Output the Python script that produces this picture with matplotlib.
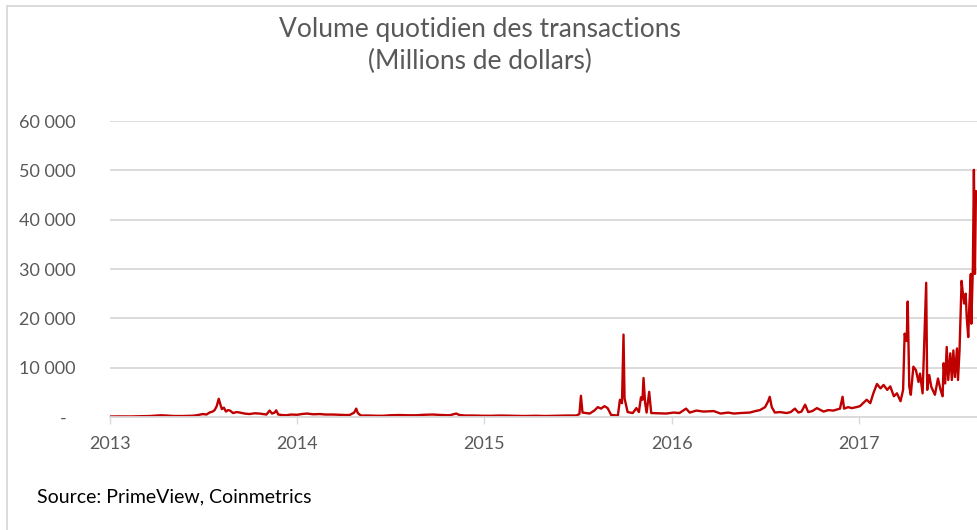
import matplotlib
matplotlib.use("Agg")
import matplotlib.pyplot as plt
from matplotlib.lines import Line2D
from matplotlib.ticker import FixedLocator, FuncFormatter
from matplotlib.transforms import ScaledTranslation
import pandas as pd

plt.rcParams['font.family'] = ['Lato', 'DejaVu Sans']

title_line1 = "Volume quotidien des transactions"
title_line2 = "(Millions de dollars)"
source_text = "Source: PrimeView, Coinmetrics"

dates = [
    "2013-01-01", "2013-01-20", "2013-02-10", "2013-03-01", "2013-03-20", "2013-04-10",
    "2013-04-20", "2013-05-05", "2013-05-23", "2013-06-10", "2013-06-19", "2013-07-01",
    "2013-07-08", "2013-07-14", "2013-07-20", "2013-07-24", "2013-07-28", "2013-08-01",
    "2013-08-04", "2013-08-07", "2013-08-11", "2013-08-15", "2013-08-19", "2013-08-23",
    "2013-08-29", "2013-09-05", "2013-09-11", "2013-09-20", "2013-09-30", "2013-10-10",
    "2013-10-19", "2013-10-26", "2013-11-02", "2013-11-08", "2013-11-13", "2013-11-18",
    "2013-11-21", "2013-11-25", "2013-12-02", "2013-12-11", "2013-12-20",
    "2014-01-01", "2014-01-10", "2014-01-20", "2014-02-01", "2014-02-14", "2014-02-25",
    "2014-03-12", "2014-03-25", "2014-04-05", "2014-04-13", "2014-04-22", "2014-04-26",
    "2014-04-29", "2014-05-05", "2014-05-20", "2014-06-05", "2014-06-17", "2014-07-01",
    "2014-07-19", "2014-08-05", "2014-08-21", "2014-09-05", "2014-09-22", "2014-10-10",
    "2014-10-25", "2014-11-07", "2014-11-13", "2014-11-25", "2014-12-10", "2014-12-29",
    "2015-01-15", "2015-02-01", "2015-02-25", "2015-03-20", "2015-04-10", "2015-04-30",
    "2015-05-20", "2015-06-10", "2015-06-29", "2015-07-05", "2015-07-08", "2015-07-11",
    "2015-07-18", "2015-07-25", "2015-08-03", "2015-08-10", "2015-08-16", "2015-08-23",
    "2015-08-29", "2015-09-05", "2015-09-12", "2015-09-18", "2015-09-22", "2015-09-26",
    "2015-09-29", "2015-10-01", "2015-10-07", "2015-10-12", "2015-10-17", "2015-10-24",
    "2015-10-29", "2015-11-02", "2015-11-05", "2015-11-07", "2015-11-10", "2015-11-13",
    "2015-11-18", "2015-11-22", "2015-12-05", "2015-12-21",
    "2016-01-05", "2016-01-16", "2016-01-29", "2016-02-05", "2016-02-18", "2016-03-03",
    "2016-03-23", "2016-04-05", "2016-04-20", "2016-05-01", "2016-05-14", "2016-06-01",
    "2016-06-12", "2016-06-21", "2016-07-01", "2016-07-07", "2016-07-10", "2016-07-14",
    "2016-07-20", "2016-07-30", "2016-08-12", "2016-08-20", "2016-08-28", "2016-09-04",
    "2016-09-10", "2016-09-17", "2016-09-23", "2016-10-01", "2016-10-10", "2016-10-23",
    "2016-11-01", "2016-11-11", "2016-11-24", "2016-11-29", "2016-12-02", "2016-12-10",
    "2016-12-17", "2016-12-26",
    "2017-01-02", "2017-01-08", "2017-01-15", "2017-01-22", "2017-01-28", "2017-02-04",
    "2017-02-11", "2017-02-17", "2017-02-24", "2017-03-02", "2017-03-09", "2017-03-15",
    "2017-03-22", "2017-03-27", "2017-03-30", "2017-04-03", "2017-04-05", "2017-04-08",
    "2017-04-11", "2017-04-16", "2017-04-21", "2017-04-26", "2017-04-29", "2017-05-04",
    "2017-05-11", "2017-05-13", "2017-05-17", "2017-05-21", "2017-05-28", "2017-06-03",
    "2017-06-08", "2017-06-12", "2017-06-14", "2017-06-17", "2017-06-20", "2017-06-23",
    "2017-06-27", "2017-06-30", "2017-07-03", "2017-07-06", "2017-07-10", "2017-07-12",
    "2017-07-15", "2017-07-19", "2017-07-21", "2017-07-24", "2017-07-27", "2017-07-29",
    "2017-08-01", "2017-08-03", "2017-08-06", "2017-08-07", "2017-08-10", "2017-08-12",
    "2017-08-14", "2017-08-16", "2017-08-19",
]

volumes = [
    100, 120, 110, 150, 200, 350,
    300, 200, 200, 250, 350, 600,
    500, 900, 1100, 1400, 2200, 3700,
    2600, 1600, 1900, 1100, 1400, 1300,
    800, 1000, 900, 700, 600, 750,
    700, 600, 500, 1300, 700, 900,
    1350, 500, 400, 350, 500,
    450, 600, 700, 550, 600, 500,
    500, 450, 400, 400, 900, 1700,
    800, 300, 300, 250, 250, 350,
    400, 350, 350, 450, 500, 400,
    350, 700, 400, 300, 300, 250,
    250, 300, 250, 200, 250, 200,
    250, 300, 300, 600, 4300, 900,
    800, 700, 1300, 2000, 1700, 2200,
    1800, 400, 350, 300, 3500, 2800,
    16700, 3800, 1000, 900, 800, 1800,
    1000, 4000, 3500, 7900, 3000, 900,
    5100, 800, 750, 700,
    900, 800, 1700, 900, 1300, 1100,
    1200, 700, 900, 700, 800, 900,
    1200, 1400, 2000, 3200, 4100, 2000,
    900, 1000, 800, 1000, 1700, 900,
    1100, 2500, 1000, 1200, 1800, 1100,
    1400, 1300, 1700, 4100, 1700, 2000,
    1800, 2000,
    2200, 2800, 3500, 2800, 4800, 6700,
    5800, 6500, 5500, 6200, 4200, 4800,
    3200, 5500, 16900, 15400, 23400, 6200,
    4500, 10200, 9500, 7100, 8800, 4800,
    27200, 5500, 8500, 6100, 4500, 7800,
    5500, 4200, 10900, 6800, 14200, 7500,
    12900, 7500, 13500, 8100, 13900, 7500,
    13500, 27600, 25500, 23000, 25000, 20300,
    16200, 22300, 29000, 18900, 30300, 50100,
    29000, 45800, 45000,
]

year_ticks = ["2013-01-01", "2014-01-01", "2015-01-01", "2016-01-01", "2017-01-01"]
year_labels = ["2013", "2014", "2015", "2016", "2017"]
y_ticks = [0, 10000, 20000, 30000, 40000, 50000, 60000]

TEXT = "#595959"
GRID = "#D9D9D9"
LINE = "#C00000"

W, H = 978, 530
fig = plt.figure(figsize=(W / 100, H / 100), dpi=100)
ax = fig.add_axes([110 / W, 1 - 417 / H, 868 / W, (417 - 121) / H])

x = pd.to_datetime(dates)
ax.plot(x, volumes, color=LINE, lw=1.7, solid_joinstyle="round")

ax.set_ylim(0, 60000)
ax.set_xlim(pd.Timestamp("2013-01-01"), pd.Timestamp("2017-08-20"))

ax.yaxis.set_major_locator(FixedLocator(y_ticks))


def yfmt(v, pos):
    if v == 0:
        return "-"
    return f"{int(v):,}".replace(",", " ")


ax.yaxis.set_major_formatter(FuncFormatter(yfmt))
ax.set_xticks(pd.to_datetime(year_ticks))
ax.set_xticklabels(year_labels)

ax.yaxis.grid(True, color=GRID, lw=1.3)
ax.set_axisbelow(True)
for s in ("left", "top", "right"):
    ax.spines[s].set_visible(False)
ax.spines["bottom"].set_color(GRID)
ax.spines["bottom"].set_linewidth(1.3)

ax.tick_params(axis="y", length=0, pad=25, labelsize=13, labelcolor=TEXT)
ax.tick_params(axis="x", length=5, width=1, color=GRID, pad=9, labelsize=13, labelcolor=TEXT)

# shift the "-" zero label left, as in the reference's accounting format
zero_tick = ax.yaxis.get_major_ticks()[0]
zero_tick.label1.set_transform(zero_tick.label1.get_transform()
                               + ScaledTranslation(-0.09, 0, fig.dpi_scale_trans))

fig.text(480 / W, 1 - 29 / H, title_line1, ha="center", va="center", fontsize=19, color=TEXT)
fig.text(480 / W, 1 - 61 / H, title_line2, ha="center", va="center", fontsize=19, color=TEXT)
fig.text(37 / W, 1 - 497 / H, source_text, ha="left", va="center", fontsize=14, color="#000000")

fig.add_artist(Line2D([7 / W, 7 / W], [0, 1 - 6 / H], transform=fig.transFigure, color=GRID, lw=1.3))
fig.add_artist(Line2D([7 / W, 1], [1 - 6 / H, 1 - 6 / H], transform=fig.transFigure, color=GRID, lw=1.3))

fig.savefig("out.png", dpi=100)
